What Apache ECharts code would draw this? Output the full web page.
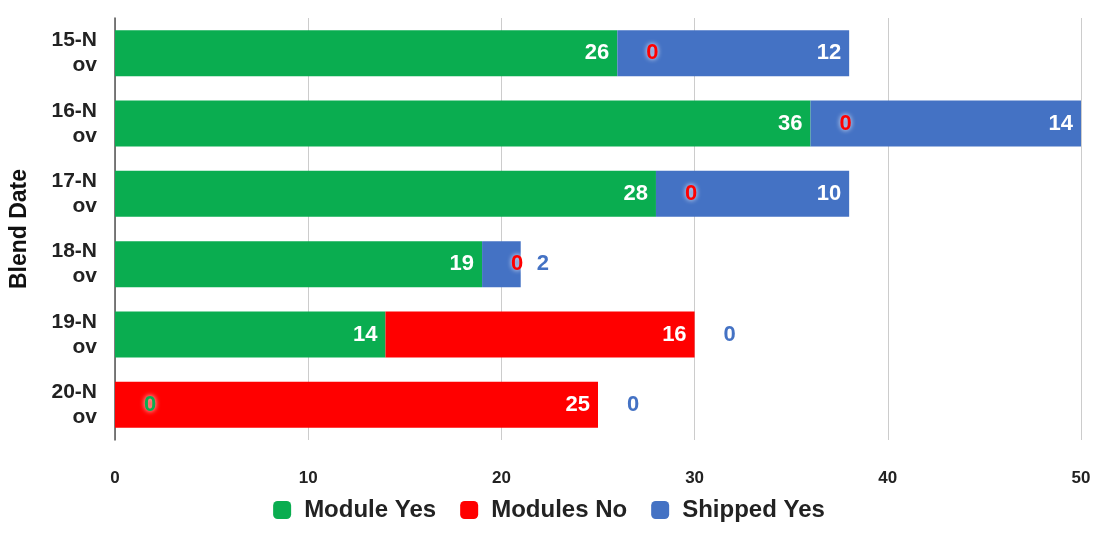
<!DOCTYPE html>
<html lang="en">

<head>
  <meta charset="UTF-8">
  <title>Blend Date</title>
  <script src="https://cdn.jsdelivr.net/npm/echarts@6/dist/echarts.min.js"></script>
  <style>
    html, body { margin: 0; padding: 0; background: #fff; }
  </style>
</head>

<body>
  <div id="main" style="width:1098px;height:534px;"></div>
</body>
<script>
  let categories = ['15-Nov', '16-Nov', '17-Nov', '18-Nov', '19-Nov', '20-Nov']
  let moduleYes = [26, 36, 28, 19, 14, 0]
  let modulesNo = [0, 0, 0, 0, 16, 25]
  let shippedYes = [12, 14, 10, 2, 0, 0]
  let xTicks = [0, 10, 20, 30, 40, 50]

  let colors = ['#0aad50', '#ff0000', '#4472c4']
  let font = 'Liberation Sans, Arial, sans-serif'

  initChart()

  // labels: white inside when the bar is wide enough, coloured outside when not
  function buildData(values, color) {
    return values.map(function (v) {
      if (v === 0) {
        return {
          value: v,
          label: {
            position: 'insideLeft', offset: [21, 0], color: color,
            textShadowColor: '#fff', textShadowBlur: 5
          }
        }
      }
      if (v < 4) {
        return {
          value: v,
          label: { position: 'right', distance: 16, color: color }
        }
      }
      return v
    })
  }

  function initChart() {
    let myChart = echarts.init(document.getElementById('main'))
    let labelBase = {
      show: true,
      position: 'insideRight',
      distance: 8,
      color: '#fff',
      fontFamily: font,
      fontWeight: 'bold',
      fontSize: 22
    }
    let names = ['Module Yes', 'Modules No', 'Shipped Yes']
    let sets = [moduleYes, modulesNo, shippedYes]
    let series = sets.map(function (vals, i) {
      return {
        name: names[i],
        type: 'bar',
        stack: 'total',
        barWidth: 46,
        itemStyle: { color: colors[i] },
        label: labelBase,
        data: buildData(vals, colors[i])
      }
    })
    let option = {
      animation: false,
      color: colors,
      grid: { left: 109, right: 17, top: 18, bottom: 94 },
      legend: {
        top: 493,
        left: 'center',
        icon: 'roundRect',
        itemWidth: 18,
        itemHeight: 18,
        itemGap: 24,
        textStyle: { fontFamily: font, fontWeight: 'bold', fontSize: 24, color: '#222', padding: [0, 0, 0, 8] }
      },
      xAxis: {
        type: 'value',
        min: xTicks[0],
        max: xTicks[xTicks.length - 1],
        interval: 10,
        axisLabel: { margin: 30, fontFamily: font, fontWeight: 'bold', fontSize: 17, color: '#222' },
        splitLine: { lineStyle: { color: '#cccccc' } },
        axisLine: { show: false },
        axisTick: { show: false }
      },
      yAxis: {
        type: 'category',
        inverse: true,
        data: categories,
        name: 'Blend Date',
        nameLocation: 'middle',
        nameRotate: 90,
        nameGap: 84,
        nameTextStyle: { fontFamily: font, fontWeight: 'bold', fontSize: 23, color: '#111' },
        axisLine: { lineStyle: { color: '#555', width: 1.5 } },
        axisTick: { show: false },
        axisLabel: {
          margin: 18,
          fontFamily: font,
          fontWeight: 'bold',
          fontSize: 21,
          lineHeight: 25,
          color: '#222',
          formatter: function (v) { return v.slice(0, 4) + '\n' + v.slice(4) }
        }
      },
      series: series
    }
    myChart.setOption(option)
  }
</script>

</html>
